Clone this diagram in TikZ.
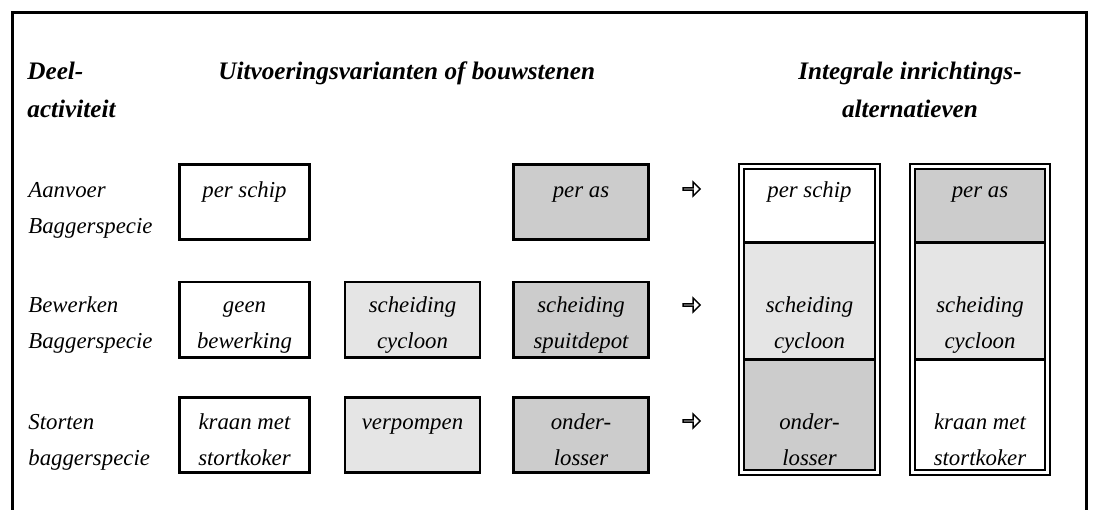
\documentclass[tikz,border=0pt]{standalone}
\usepackage{fontspec}
\setmainfont{Liberation Serif}
\usetikzlibrary{positioning,shapes.arrows}

\definecolor{lichtgrijs}{gray}{0.9}
\definecolor{donkergrijs}{gray}{0.8}
\newcommand{\regels}[2]{\strut#1\\\strut#2}

\begin{document}
\begin{tikzpicture}[x=0.5pt, y=-0.5pt,
                    every node/.style={inner sep=0pt, font=\fontsize{11.4}{18}\selectfont\itshape},
                    vak/.style={draw, line width=1.4pt, minimum width=65pt, minimum height=37.6pt},
                    breed/.style={minimum width=67.5pt},
                    tekst/.style={align=center, anchor=north},
                    rij/.style={align=left, anchor=north west},
                    kop/.style={font=\fontsize{12.6}{19}\selectfont\bfseries\itshape},
                    pijl/.style={draw, single arrow, line width=0.7pt, minimum height=8.5pt, minimum width=7pt, single arrow head extend=1.8pt},
                    cel/.style={minimum width=64.5pt},
                    scheid/.style={line width=1.2pt},
                    dubbel/.style={draw, double, double distance=1.5pt, line width=1pt}
                    ]
                    \useasboundingbox (0,0) rectangle (1093,509);
                    \draw[line width=1.5pt] (12.5,540) -- (12.5,12.5) -- (1086,12.5) -- (1086,540);

                    % koppen
                    \node[kop, rij] (deel) at (27,52.4) {\regels{Deel-}{activiteit}};
                    \node[kop, anchor=base west] (uitv) at (218,79) {Uitvoeringsvarianten of bouwstenen};
                    \node[kop, align=center, anchor=north] (integr) at (910,52.4) {\regels{Integrale inrichtings-}{alternatieven}};

                    % deelactiviteiten
                    \node[rij] (aanvoer) at (28,172) {\regels{Aanvoer}{Baggerspecie}};
                    \node[rij] (bewerken) at (28,287) {\regels{Bewerken}{Baggerspecie}};
                    \node[rij] (storten) at (28,404) {\regels{Storten}{baggerspecie}};

                    % bouwstenen
                    \foreach \naam/\x/\y/\ty/\soort/\kleur/\een/\twee in {
                        a1/244.5/202/172/vak/white/per schip/,
                        a3/581/202/172/breed/donkergrijs/per as/,
                        b1/244.5/319.5/287/vak/white/geen/bewerking,
                        b2/412.5/319.5/287/breed/lichtgrijs/scheiding/cycloon,
                        b3/581/319.5/287/breed/donkergrijs/scheiding/spuitdepot,
                        c1/244.5/435/404/vak/white/kraan met/stortkoker,
                        c2/412.5/435/404/breed/lichtgrijs/verpompen/,
                        c3/581/435/404/breed/donkergrijs/onder-/losser}{
                        \node[vak, \soort, fill=\kleur] (\naam) at (\x,\y) {};
                        \node[tekst] (t\naam) at (\x,\ty) {\regels{\een}{\twee}};
                    }

                    \foreach \r/\y in {1/189,2/305,3/421}{
                        \node[pijl] (p\r) at (691,\y) {};
                    }

                    % integrale alternatieven
                    \node[cel, fill=white, minimum height=36pt] (i1) at (809.5,206) {};
                    \node[cel, fill=lichtgrijs, minimum height=58.5pt] (i2) at (809.5,300.5) {};
                    \node[cel, fill=donkergrijs, minimum height=55pt] (i3) at (809.5,414) {};
                    \node[cel, fill=donkergrijs, minimum height=36pt] (j1) at (980,206) {};
                    \node[cel, fill=lichtgrijs, minimum height=58.5pt] (j2) at (980,300.5) {};
                    \node[cel, fill=white, minimum height=55pt] (j3) at (980,414) {};
                    \foreach \i in {i1,i2,j1,j2}{
                        \draw[scheid] (\i.south west) -- (\i.south east);
                    }
                    \draw[dubbel] (741.5,166.5) rectangle (877.5,472.5);
                    \draw[dubbel] (912.5,166.5) rectangle (1047.5,472.5);

                    \node[tekst] (ti1) at (809.5,172) {\regels{per schip}{}};
                    \node[tekst] (ti2) at (809.5,287) {\regels{scheiding}{cycloon}};
                    \node[tekst] (ti3) at (809.5,404) {\regels{onder-}{losser}};
                    \node[tekst] (tj1) at (980,172) {\regels{per as}{}};
                    \node[tekst] (tj2) at (980,287) {\regels{scheiding}{cycloon}};
                    \node[tekst] (tj3) at (980,404) {\regels{kraan met}{stortkoker}};
                \end{tikzpicture}
\end{document}
